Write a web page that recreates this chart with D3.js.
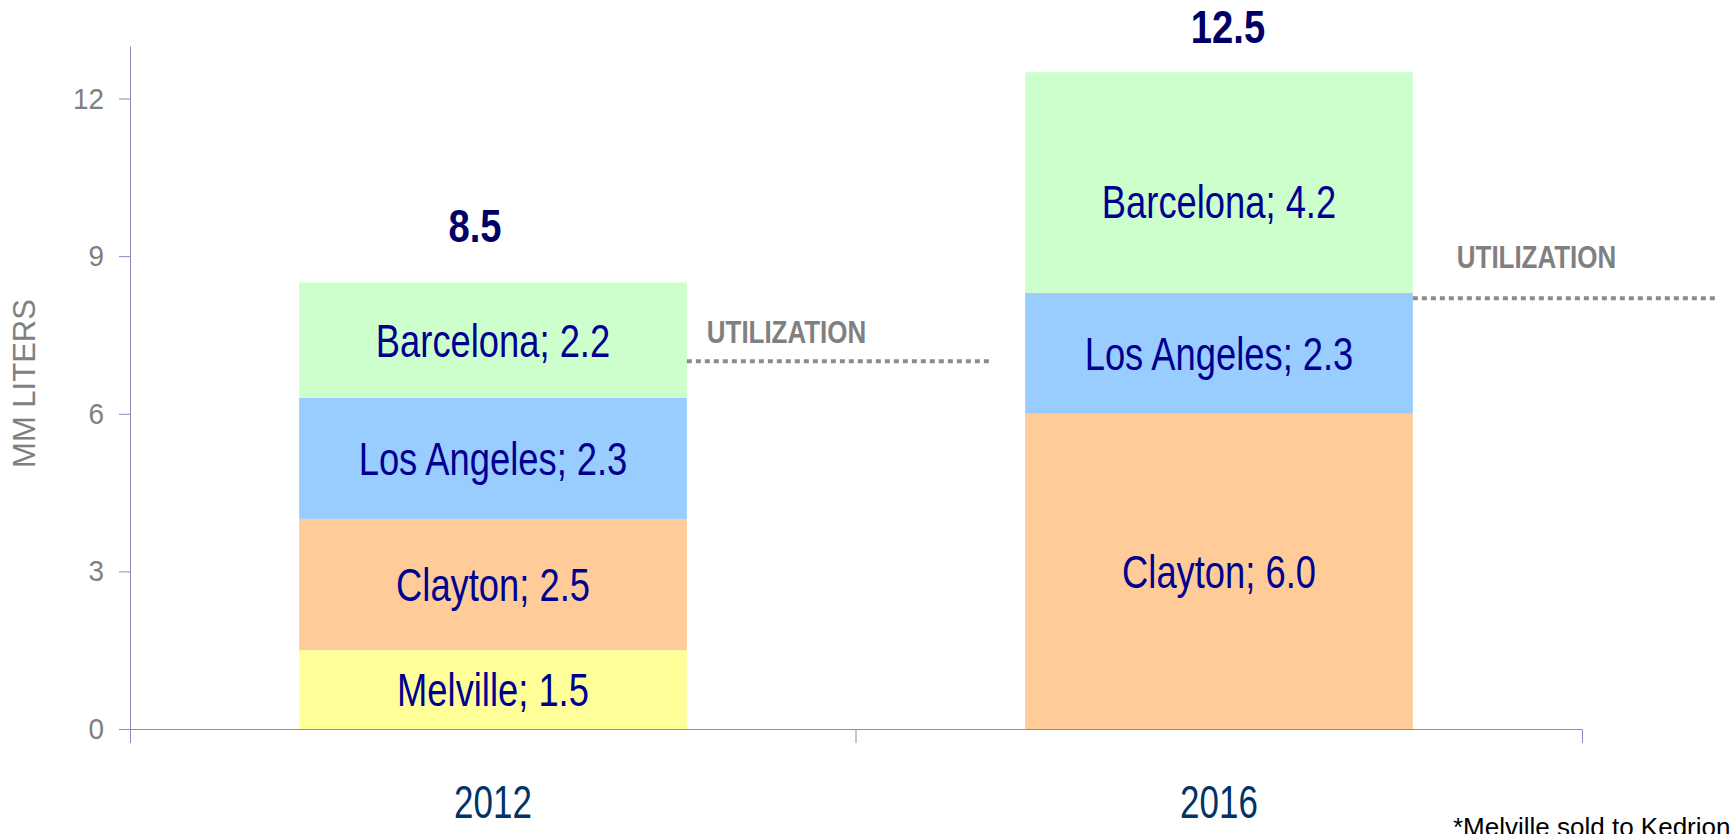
<!DOCTYPE html>
<html>
<head>
<meta charset="utf-8">
<script src="https://cdn.jsdelivr.net/npm/d3@7"></script>
<style>
  body { margin: 0; background: #fff; }
  svg { display: block; }
  text { font-family: "Liberation Sans", Arial, sans-serif; }
  .axis text { fill: #808080; }
  .axis path, .axis line { stroke: #8a8ab8; }
</style>
</head>
<body>
<svg></svg>
<script>
var years = ["2012", "2016"];
var sites = ["Melville", "Clayton", "Los Angeles", "Barcelona"];
var melville = [1.5, 0];
var clayton = [2.5, 6.0];
var losAngeles = [2.3, 2.3];
var barcelona = [2.2, 4.2];
var totals = [8.5, 12.5];
var utilization = [7.0, 8.2];
var yTicks = [0, 3, 6, 9, 12];
var colors = ["#ffff99", "#ffcc99", "#99ccff", "#ccffcc"];

var margin = { top: 46, right: 149, bottom: 105, left: 130 },
    width = 1731 - margin.left - margin.right,
    height = 834 - margin.top - margin.bottom;

var svg = d3.select("svg")
    .attr("width", 1731)
    .attr("height", 834)
    .append("g")
    .attr("transform", "translate(" + margin.left + "," + margin.top + ")");

// the original uses a condensed face, so squeeze the glyphs horizontally
function squeeze(sel, s) {
    sel.each(function() {
        var t = d3.select(this);
        var tx = +t.attr("x") || 0, ty = +t.attr("y") || 0;
        t.attr("x", null).attr("y", null)
         .attr("transform", "translate(" + tx + "," + ty + ") scale(" + s + ",1)");
    });
}

var table = years.map(function(yr, i) {
    return { year: yr, "Melville": melville[i], "Clayton": clayton[i],
             "Los Angeles": losAngeles[i], "Barcelona": barcelona[i] };
});
var series = d3.stack().keys(sites)(table);

var x = d3.scaleBand()
    .domain(years)
    .range([0, width])
    .paddingInner(0.466)
    .paddingOuter(0.233);

var y = d3.scaleLinear()
    .domain([0, 13])
    .range([height, 0]);

var color = d3.scaleOrdinal().domain(sites).range(colors);

// stacked segments
var layer = svg.selectAll(".layer")
    .data(series)
    .enter().append("g")
    .attr("class", "layer")
    .attr("fill", function(d) { return color(d.key); });

layer.selectAll("rect")
    .data(function(d) { return d; })
    .enter().append("rect")
    .attr("x", function(d) { return x(d.data.year); })
    .attr("y", function(d) { return y(d[1]); })
    .attr("width", x.bandwidth())
    .attr("height", function(d) { return y(d[0]) - y(d[1]); });

var segLabels = layer.selectAll("text")
    .data(function(s) {
        return s.map(function(d) { d.key = s.key; return d; })
                .filter(function(d) { return d[1] - d[0] > 0; });
    })
    .enter().append("text")
    .attr("x", function(d) { return x(d.data.year) + x.bandwidth() / 2; })
    .attr("y", function(d) {
        var mid = (y(d[0]) + y(d[1])) / 2;
        // the 2016 Barcelona label sits a bit low in the original
        if (d.key === "Barcelona" && d.data.year === "2016") mid += 19;
        return mid;
    })
    .attr("dy", "0.36em")
    .attr("text-anchor", "middle")
    .style("font-size", "46px")
    .style("fill", "#000090")
    .text(function(d) { return d.key + "; " + d3.format(".1f")(d[1] - d[0]); });
squeeze(segLabels, 0.79);

// totals
var totalLabels = svg.selectAll(".total")
    .data(totals)
    .enter().append("text")
    .attr("class", "total")
    .attr("x", function(d, i) { return x(years[i]) + x.bandwidth() / 2 + (i === 0 ? -18 : 9); })
    .attr("y", function(d, i) { return y(d) - (i === 0 ? 40 : 29); })
    .attr("text-anchor", "middle")
    .style("font-size", "46px")
    .style("font-weight", "bold")
    .style("fill", "#000066")
    .text(function(d) { return d3.format(".1f")(d); });
squeeze(totalLabels, 0.83);

// utilization lines
var util = svg.selectAll(".util")
    .data(utilization)
    .enter().append("g")
    .attr("class", "util");

util.append("line")
    .attr("x1", function(d, i) { return x(years[i]) + x.bandwidth(); })
    .attr("x2", function(d, i) { return x(years[i]) + x.bandwidth() + x.step() * 0.42; })
    .attr("y1", function(d) { return y(d); })
    .attr("y2", function(d) { return y(d); })
    .style("stroke", "#8c8c8c")
    .style("stroke-width", 4)
    .style("stroke-dasharray", "5, 4");

var utilLabels = util.append("text")
    .attr("x", function(d, i) { return x(years[i]) + x.bandwidth() + (i === 0 ? 20 : 44); })
    .attr("y", function(d, i) { return y(d) - (i === 0 ? 18 : 30); })
    .style("font-size", "32px")
    .style("font-weight", "bold")
    .style("fill", "#808080")
    .text("UTILIZATION");
squeeze(utilLabels, 0.81);

// axes
var yAxis = svg.append("g")
    .attr("class", "axis axis--y")
    .call(d3.axisLeft(y).tickValues(yTicks).tickSizeInner(11).tickSizeOuter(0).tickPadding(15));
yAxis.selectAll("text")
    .style("font-size", "30px");
squeeze(yAxis.selectAll(".tick text"), 0.93);

var xAxis = svg.append("g")
    .attr("class", "axis axis--x")
    .attr("transform", "translate(0," + height + ")")
    .call(d3.axisBottom(x).tickSizeInner(0).tickSizeOuter(14).tickPadding(56));

xAxis.selectAll(".tick text")
    .style("font-size", "46px")
    .style("fill", "#003366");
squeeze(xAxis.selectAll(".tick text"), 0.76);

xAxis.selectAll(".divider")
    .data(years.slice(1))
    .enter().append("line")
    .attr("class", "divider")
    .attr("x1", function(d) { return x(d) - x.step() * x.paddingInner() / 2; })
    .attr("x2", function(d) { return x(d) - x.step() * x.paddingInner() / 2; })
    .attr("y1", 0)
    .attr("y2", 14);

svg.append("text")
    .attr("transform", "translate(-95," + (height / 2 - 4) + ") rotate(-90)")
    .attr("text-anchor", "middle")
    .style("font-size", "31px")
    .style("fill", "#808080")
    .text("MM LITERS");

// footnote
d3.select("svg").append("text")
    .attr("x", 1453)
    .attr("y", 836)
    .style("font-size", "26px")
    .style("fill", "#000")
    .text("*Melville sold to Kedrion");
</script>
</body>
</html>
